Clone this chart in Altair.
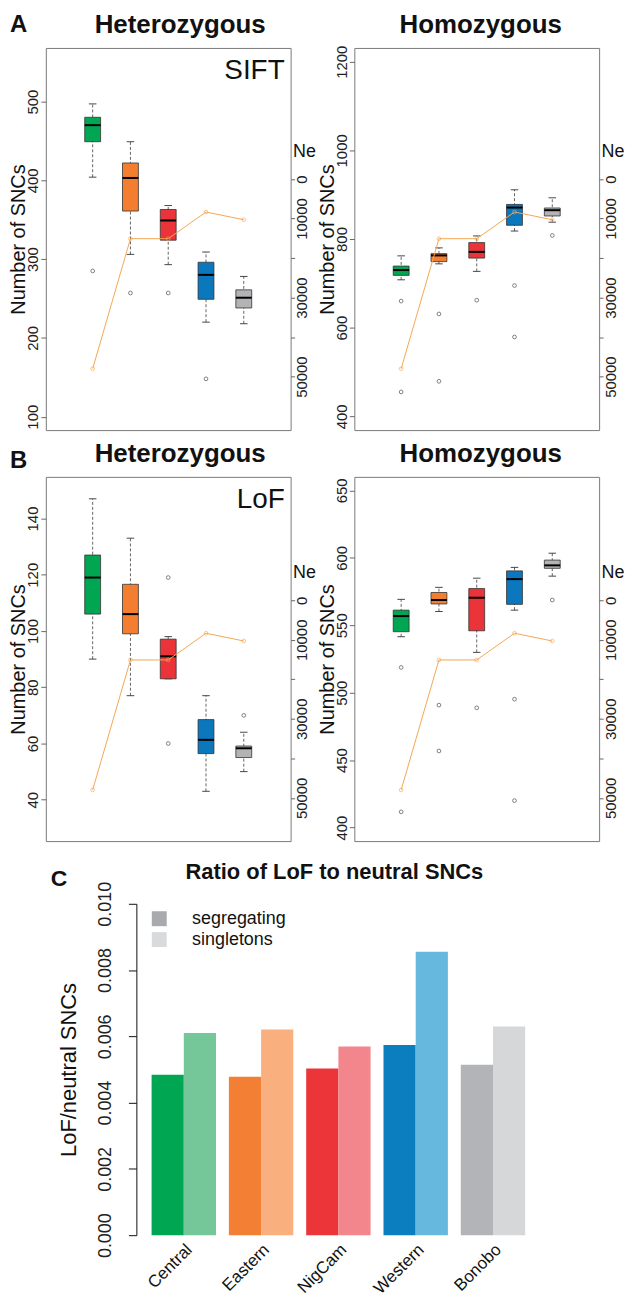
import altair as alt
import pandas as pd

FONT = "Liberation Sans"

POPS = ["Central", "Eastern", "NigCam", "Western", "Bonobo"]
BOX_COLORS = ["#00A651", "#F47E30", "#EA343A", "#0B78BE", "#B3B3B5"]
NE_COLOR = "#F5A653"
NE = [48000, 15100, 15100, 8350, 10300]

# Panel A, SIFT, heterozygous
A_HET_LO = [404, 306, 293, 220, 218]
A_HET_Q1 = [449, 361, 324, 249, 238]
A_HET_MED = [470, 403, 349, 280, 251]
A_HET_Q3 = [480, 422, 363, 296, 261]
A_HET_HI = [497, 449, 368, 309, 278]
A_HET_OUT_POP = ["Central", "Eastern", "NigCam", "Western"]
A_HET_OUT_VAL = [285, 257, 257, 148]

# Panel A, SIFT, homozygous
A_HOM_LO = [708, 744, 727, 818, 838]
A_HOM_Q1 = [718, 749, 757, 831, 852]
A_HOM_MED = [730, 763, 771, 871, 865]
A_HOM_Q3 = [739, 767, 792, 878, 870]
A_HOM_HI = [762, 780, 807, 911, 893]
A_HOM_OUT_POP = ["Central", "Central", "Eastern", "Eastern", "NigCam", "Western", "Western", "Bonobo"]
A_HOM_OUT_VAL = [660, 455, 631, 479, 662, 695, 579, 808]

# Panel B, LoF, heterozygous
B_HET_LO = [90, 77, 83, 43, 50]
B_HET_Q1 = [106, 99, 83, 56.4, 55]
B_HET_MED = [119, 106, 91, 61.3, 58.3]
B_HET_Q3 = [127, 116.6, 97.1, 68.5, 59.1]
B_HET_HI = [147, 133, 98, 77, 64]
B_HET_OUT_POP = ["NigCam", "NigCam", "Bonobo"]
B_HET_OUT_VAL = [119, 60, 70]

# Panel B, LoF, homozygous
B_HOM_LO = [541.5, 560.2, 529.9, 561.2, 586.4]
B_HOM_Q1 = [545.2, 565.8, 545.9, 565.5, 592.2]
B_HOM_MED = [556.8, 568.7, 570.4, 584.2, 594.4]
B_HOM_Q3 = [561.2, 574.3, 577.2, 590.3, 598.3]
B_HOM_HI = [569.2, 578.1, 584.9, 592.9, 603.4]
B_HOM_OUT_POP = ["Central", "Central", "Eastern", "Eastern", "NigCam", "Western", "Western", "Bonobo"]
B_HOM_OUT_VAL = [518.7, 411.7, 490.8, 456.8, 488.8, 495.2, 420, 568.7]

# Panel C
C_TYPES = ["segregating", "singletons"]
C_SEG = [0.00484, 0.00478, 0.00503, 0.00574, 0.00514]
C_SING = [0.00610, 0.00621, 0.00569, 0.00855, 0.00630]
SEG_COLORS = ["#00A651", "#F37F35", "#EC3538", "#0A7EBF", "#B3B4B8"]
SING_COLORS = ["#75C79A", "#F9B07E", "#F3868C", "#67B8DE", "#D6D7D9"]
LEGEND_COLORS = ["#A9AAAD", "#D9DADB"]

NE_TICKS = [0, 10000, 20000, 30000, 40000, 50000]

PW = 246


def label(text, x, y, size, weight="normal", align="left", baseline="middle", opacity=1):
    return alt.Chart(pd.DataFrame({"t": [text]})).mark_text(
        align=align, baseline=baseline, fontSize=size, fontWeight=weight,
        color="#111111", opacity=opacity).encode(text="t:N", x=alt.value(x), y=alt.value(y))


def box_panel(lo, q1, med, q3, hi, out_pop, out_val, ydom, yticks, nedom, height,
              title, title_dx, letter, letter_y, tag):
    df = pd.DataFrame({"pop": POPS, "pos": list(range(1, 6)), "lo": lo, "q1": q1,
                       "med": med, "q3": q3, "hi": hi, "ne": NE})
    idx = {p: i + 1 for i, p in enumerate(POPS)}
    odf = pd.DataFrame({"pop": out_pop, "val": out_val})
    odf["pos"] = [idx[p] for p in out_pop]

    xs = alt.Scale(domain=[-0.24, 6.24], nice=False, zero=False)
    ys = alt.Scale(domain=ydom, nice=False, zero=False)
    yax = alt.Axis(title="Number of SNCs", values=yticks, grid=False, domain=False,
                   tickSize=5, tickColor="#666666", labelAngle=270, labelAlign="center",
                   labelBaseline="bottom", labelFontSize=15, labelPadding=0,
                   labelColor="#222222", labelOverlap=False, format="d",
                   titleFontSize=20, titleFontWeight="normal", titlePadding=-3,
                   titleColor="#111111")
    y0 = height * (0 - nedom[0]) / (nedom[1] - nedom[0])
    nes = alt.Scale(domain=nedom, nice=False, zero=False, reverse=True)
    neax = alt.Axis(orient="right", title="Ne", values=NE_TICKS, grid=False, domain=False,
                    tickSize=4, tickColor="#666666", labelAngle=270, labelAlign="center",
                    labelBaseline="top", labelFontSize=15, labelPadding=0,
                    labelColor="#222222", labelOverlap=False,
                    labelExpr="(datum.value == 20000 || datum.value == 40000) ? '' : format(datum.value, 'd')",
                    titleAngle=0, titleX=2, titleY=y0 - 28, titleAlign="left",
                    titleBaseline="middle", titleFontSize=18, titleFontWeight="normal",
                    titleColor="#111111")

    base = alt.Chart(df)
    X = alt.X("pos:Q", scale=xs, axis=None)
    whisk = base.mark_rule(color="#555555", strokeDash=[3, 2], strokeWidth=0.9).encode(
        x=X, y=alt.Y("lo:Q", scale=ys, axis=yax), y2="hi:Q")
    caps = base.transform_fold(["lo", "hi"], as_=["k", "v"]).transform_calculate(
        xa="datum.pos - 0.1", xb="datum.pos + 0.1").mark_rule(
        color="#333333", strokeWidth=0.9).encode(
        x=alt.X("xa:Q", scale=xs, axis=None), x2="xb:Q",
        y=alt.Y("v:Q", scale=ys, axis=yax))
    boxc = base.transform_calculate(xa="datum.pos - 0.21", xb="datum.pos + 0.21")
    box = boxc.mark_rect(stroke="#333333", strokeWidth=0.8).encode(
        x=alt.X("xa:Q", scale=xs, axis=None), x2="xb:Q",
        y=alt.Y("q1:Q", scale=ys, axis=yax), y2="q3:Q",
        color=alt.Color("pop:N", scale=alt.Scale(domain=POPS, range=BOX_COLORS), legend=None))
    medl = boxc.mark_rule(color="#000000", strokeWidth=2).encode(
        x=alt.X("xa:Q", scale=xs, axis=None), x2="xb:Q",
        y=alt.Y("med:Q", scale=ys, axis=yax))
    outl = alt.Chart(odf).mark_point(shape="circle", filled=False, size=14,
                                     color="#222222", strokeWidth=0.8).encode(
        x=X, y=alt.Y("val:Q", scale=ys, axis=yax))
    boxes = alt.layer(whisk, caps, box, medl, outl)

    neline = base.mark_line(color=NE_COLOR, strokeWidth=1).encode(
        x=X, y=alt.Y("ne:Q", scale=nes, axis=neax))
    nepts = base.mark_point(shape="circle", filled=False, size=14, color=NE_COLOR,
                            strokeWidth=0.9).encode(
        x=X, y=alt.Y("ne:Q", scale=nes, axis=neax))
    nel = alt.layer(neline, nepts)

    layers = [boxes, nel, label(title, PW / 2 + title_dx, -23, 26, "bold", "center")]
    if tag:
        layers.append(label(tag, PW - 6, 23, 28, "normal", "right"))
    if letter:
        layers.append(label(letter, -36, letter_y, 24, "bold", "left"))

    return alt.layer(*layers).resolve_scale(y="independent").properties(
        width=PW, height=height)


HA = 384
HB = 366
a_left = box_panel(A_HET_LO, A_HET_Q1, A_HET_MED, A_HET_Q3, A_HET_HI,
                   A_HET_OUT_POP, A_HET_OUT_VAL, [83, 568], [100, 200, 300, 400, 500],
                   [-33160, 63530], HA, "Heterozygous", 12, "A", -23, "SIFT")
a_right = box_panel(A_HOM_LO, A_HOM_Q1, A_HOM_MED, A_HOM_Q3, A_HOM_HI,
                    A_HOM_OUT_POP, A_HOM_OUT_VAL, [369, 1231], [400, 600, 800, 1000, 1200],
                    [-33160, 63530], HA, "Homozygous", 4, None, 0, None)
b_left = box_panel(B_HET_LO, B_HET_Q1, B_HET_MED, B_HET_Q3, B_HET_HI,
                   B_HET_OUT_POP, B_HET_OUT_VAL, [25.3, 154.8], [40, 60, 80, 100, 120, 140],
                   [-31230, 60944], HB, "Heterozygous", 12, "B", -16, "LoF")
b_right = box_panel(B_HOM_LO, B_HOM_Q1, B_HOM_MED, B_HOM_Q3, B_HOM_HI,
                    B_HOM_OUT_POP, B_HOM_OUT_VAL, [390, 660], [400, 450, 500, 550, 600, 650],
                    [-31230, 60944], HB, "Homozygous", 4, None, 0, None)

rows = []
for i, p in enumerate(POPS):
    rows.append({"pop": p, "type": C_TYPES[0], "value": C_SEG[i], "col": SEG_COLORS[i]})
    rows.append({"pop": p, "type": C_TYPES[1], "value": C_SING[i], "col": SING_COLORS[i]})
dfc = pd.DataFrame(rows)

CW = 406
CH = 333
cx = alt.X("pop:N", sort=POPS, scale=alt.Scale(paddingInner=0.167, paddingOuter=0.197),
           axis=alt.Axis(title=None, labelAngle=315, labelAlign="right", labelBaseline="top",
                         labelFontSize=17, ticks=False, domain=False, labelPadding=6,
                         labelColor="#111111"))
cxo = alt.XOffset("type:N", sort=C_TYPES)
cy = alt.Y("value:Q", scale=alt.Scale(domain=[0, 0.010], nice=False, zero=True),
           axis=alt.Axis(title="LoF/neutral SNCs", values=[0, 0.002, 0.004, 0.006, 0.008, 0.010],
                         format=".3f", grid=False, labelAngle=270, labelAlign="center",
                         labelBaseline="bottom", labelFontSize=18, labelPadding=14,
                         labelColor="#222222", labelOverlap=False, tickSize=8,
                         tickColor="#111111", domainColor="#111111",
                         titleFontSize=22, titleFontWeight="normal", titlePadding=16,
                         titleColor="#111111"))
bars = alt.Chart(dfc).mark_bar().encode(
    x=cx, xOffset=cxo, y=cy, color=alt.Color("col:N", scale=None))
legend_layer = alt.Chart(dfc).mark_square(opacity=0).encode(
    x=cx, xOffset=cxo, y=cy,
    fill=alt.Fill("type:N", scale=alt.Scale(domain=C_TYPES, range=LEGEND_COLORS),
                  legend=alt.Legend(orient="none", legendX=14, legendY=6, title=None,
                                    labelFontSize=18, labelColor="#111111",
                                    symbolType="square", symbolSize=225, symbolOpacity=1,
                                    symbolStrokeWidth=0, rowPadding=3, labelOffset=24)))

c_chart = alt.layer(
    bars, legend_layer,
    label("C", -86, -25, 23, "bold", "left"),
    label("Ratio of LoF to neutral SNCs", CW / 2 - 4, -32, 22, "bold", "center"),
    label(".", 0, -52, 10, "normal", "left", "top", 0),
).properties(width=CW, height=CH, view=alt.ViewBackground(stroke="transparent"))

c_pad = alt.Chart(pd.DataFrame({"a": [0]})).mark_point(opacity=0).encode(
    x=alt.value(0), y=alt.value(0)).properties(
    width=3, height=10, view=alt.ViewBackground(stroke="transparent"))

row_a = alt.hconcat(a_left, a_right, spacing=0)
row_b = alt.hconcat(b_left, b_right, spacing=0)
row_c = alt.hconcat(c_pad, c_chart, spacing=0).resolve_legend(fill="independent")

chart = alt.vconcat(row_a, row_b, row_c, spacing=9).properties(
    padding=0).resolve_legend(fill="independent").configure(
    font=FONT).configure_view(stroke="#7a7a7a", strokeWidth=1)

chart.save("out.html", embed_options={"renderer": "svg", "actions": False})
